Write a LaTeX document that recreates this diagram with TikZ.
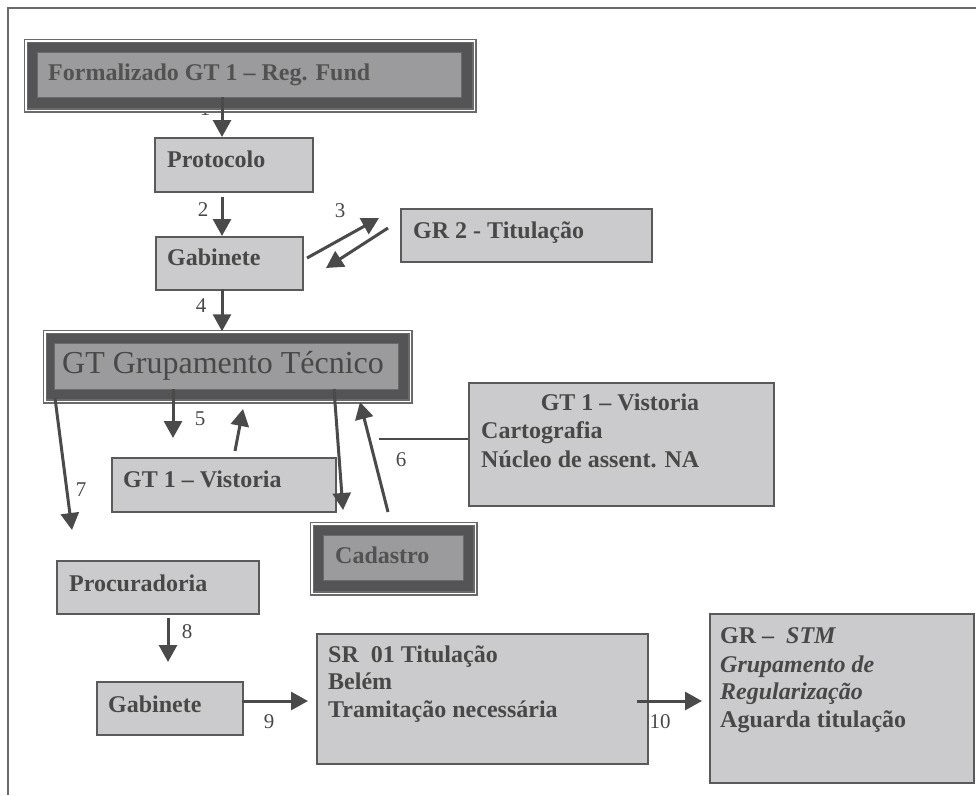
\documentclass[tikz,border=0pt]{standalone}
\usepackage{fontspec}
\setmainfont{Liberation Serif}
\usetikzlibrary{arrows.meta}
\definecolor{frline}{HTML}{6A6A6A}
\definecolor{band}{HTML}{545456}
\definecolor{midfill}{HTML}{9B9B9D}
\definecolor{boxfill}{HTML}{CBCBCD}
\definecolor{boxline}{HTML}{5A5A5A}
\definecolor{txtc}{HTML}{484848}
\definecolor{darktxt}{HTML}{525252}
\definecolor{arrc}{HTML}{4A4A4A}
\begin{document}
\begin{tikzpicture}[x=1pt,y=-1pt,
  box/.style={draw=boxline, fill=boxfill, line width=2pt, anchor=north west, inner sep=0pt},
  dframe/.style={draw=frline, double=white, double distance=1.5pt, line width=1.5pt, fill=band, anchor=north west, inner sep=0pt},
  dinner/.style={fill=midfill, draw=frline, line width=1pt, anchor=north west, inner sep=0pt},
  txt/.style={font=\bfseries\fontsize{24}{28}\selectfont, text=txtc, inner sep=0pt, anchor=base west},
  itxt/.style={font=\bfseries\itshape\fontsize{24}{28}\selectfont, text=txtc, inner sep=0pt, anchor=base west},
  dtxt/.style={txt, text=darktxt},
  num/.style={font=\fontsize{21}{24}\selectfont, text=txtc, inner sep=0pt},
  arr/.style={draw=arrc, line width=3pt, -{Triangle[length=17pt,width=18pt]}},
  conn/.style={draw=arrc, line width=2pt}
]
\useasboundingbox (0,0) rectangle (976,795);
% outer frame
\draw[frline, line width=2pt] (976,8) -- (8,8) -- (8,795);

% label 1 (partly hidden behind the top frame)
\node[num, anchor=base] (n1) at (205,115) {1};

% Formalizado
\node[dframe, minimum width=448.5pt, minimum height=69.5pt] (formal) at (25.25,40.25) {};
\node[dinner, minimum width=424pt, minimum height=45pt] (formalin) at (37,52) {};
\node[dtxt] (formalT) at (48,80) {Formalizado GT 1 – Reg. Fund};

% Protocolo, Gabinete
\node[box, minimum width=158pt, minimum height=54pt] (prot) at (154,137) {};
\node[txt] (protT) at (167,167) {Protocolo};
\node[box, minimum width=147pt, minimum height=53pt] (gab1) at (155,236) {};
\node[txt] (gab1T) at (167,265) {Gabinete};
\node[box, minimum width=251pt, minimum height=53pt] (gr2) at (400,208) {};
\node[txt] (gr2T) at (413,238) {GR 2 - Titulação};

% GT Grupamento Tecnico
\node[dframe, minimum width=365.5pt, minimum height=69.5pt] (gt) at (44.25,331.25) {};
\node[dinner, minimum width=344pt, minimum height=46pt] (gtin) at (54,343) {};
\node[font=\fontsize{32}{36}\selectfont, text=txtc, inner sep=0pt, anchor=base west] (gtT) at (62,373) {GT Grupamento Técnico};

% GT 1 Vistoria (small)
\node[box, minimum width=224pt, minimum height=54pt] (vist1) at (111,457) {};
\node[txt] (vist1T) at (123,487) {GT 1 – Vistoria};

% GT 1 Vistoria (big)
\node[box, minimum width=305pt, minimum height=123pt] (vist2) at (468,382) {};
\node[txt, anchor=base] (vist2A) at (620,410) {GT 1 – Vistoria};
\node[txt] (vist2B) at (481,438) {Cartografia};
\node[txt] (vist2C) at (481,467) {Núcleo de assent. NA};

% Cadastro
\node[dframe, minimum width=163.5pt, minimum height=69.5pt] (cad) at (311.25,523.25) {};
\node[dinner, minimum width=140pt, minimum height=45pt] (cadin) at (323,535) {};
\node[dtxt] (cadT) at (335,563) {Cadastro};

% Procuradoria, Gabinete 2
\node[box, minimum width=202pt, minimum height=53pt] (proc) at (56,560) {};
\node[txt] (procT) at (69,591) {Procuradoria};
\node[box, minimum width=146pt, minimum height=53pt] (gab2) at (96,681) {};
\node[txt] (gab2T) at (108,712) {Gabinete};

% SR box
\node[box, minimum width=331pt, minimum height=130pt] (sr) at (316,633) {};
\node[txt] (srA) at (328,662) {SR\ \ 01 Titulação};
\node[txt] (srB) at (328,689) {Belém};
\node[txt] (srC) at (328,717) {Tramitação necessária};

% GR STM box
\node[box, minimum width=264pt, minimum height=169pt] (gr) at (709,613) {};
\node[txt] (grA) at (720,643) {GR –\ \ \textit{STM}};
\node[itxt] (grB) at (720,672) {Grupamento de};
\node[itxt] (grC) at (720,699) {Regularização};
\node[txt] (grD) at (720,727) {Aguarda titulação};

% connector end points
\coordinate (a1s) at (222,97);
\coordinate (a2s) at (222,197);
\coordinate (a3us) at (307,258);
\coordinate (a3ue) at (379,218);
\coordinate (a3ds) at (388,228);
\coordinate (a3de) at (326,268);
\coordinate (a4s) at (222,289);
\coordinate (a5ds) at (173,389);
\coordinate (a5de) at (173,438);
\coordinate (a5us) at (235,451);
\coordinate (a5ue) at (243,409);
\coordinate (a7s) at (55,398);
\coordinate (a7e) at (72,530);
\coordinate (acs) at (334,389);
\coordinate (ace) at (343,510);
\coordinate (a6s) at (388,512);
\coordinate (a6e) at (360,402);
\coordinate (l6s) at (379,439);
\coordinate (a8s) at (168,618);
\coordinate (a8e) at (168,662);
\coordinate (a9s) at (242,701);
\coordinate (a9e) at (308,701);
\coordinate (a10s) at (637,701);
\coordinate (a10e) at (702,701);

% connectors
\draw[arr] (a1s) -- (prot.north -| a1s);
\draw[arr] (a2s) -- (gab1.north -| a2s);
\draw[arr] (a3us) -- (a3ue);
\draw[arr] (a3ds) -- (a3de);
\draw[arr] (a4s) -- (gt.north -| a4s);
\draw[arr] (a5ds) -- (a5de);
\draw[arr] (a5us) -- (a5ue);
\draw[arr] (a7s) -- (a7e);
\draw[arr] (acs) -- (ace);
\draw[arr] (a6s) -- (a6e);
\draw[conn] (l6s) -- (vist2.west |- l6s);
\draw[arr] (a8s) -- (a8e);
\draw[arr] (a9s) -- (a9e);
\draw[arr] (a10s) -- (a10e);

% number labels
\node[num] (n2) at (203,210) {2};
\node[num] (n3) at (340,211) {3};
\node[num] (n4) at (201,306) {4};
\node[num] (n5) at (200,419) {5};
\node[num] (n6) at (401,460) {6};
\node[num] (n7) at (81,490) {7};
\node[num] (n8) at (187,632) {8};
\node[num] (n9) at (269,722) {9};
\node[num] (n10) at (660,722) {10};
\end{tikzpicture}
\end{document}
